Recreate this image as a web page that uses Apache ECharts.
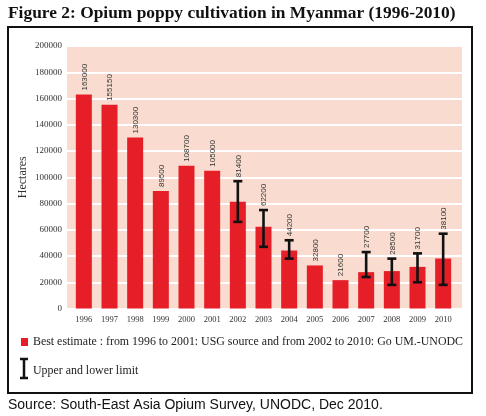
<!DOCTYPE html>
<html>
<head>
<meta charset="utf-8">
<script src="https://cdn.jsdelivr.net/npm/echarts@6/dist/echarts.min.js"></script>
<style>html,body{margin:0;padding:0;background:#fff;}#c{width:486px;height:416px;}</style>
</head>
<body>
<div id="c"></div>
<script>
var years = ['1996','1997','1998','1999','2000','2001','2002','2003','2004','2005','2006','2007','2008','2009','2010'];
var bestEstimate = [163000,155150,130300,89500,108700,105000,81400,62200,44200,32800,21600,27700,28500,31700,38100];
var upperLimit = [null,null,null,null,null,null,97000,75000,52000,null,null,43000,38000,42000,57000];
var lowerLimit = [null,null,null,null,null,null,66000,47000,38000,null,null,24000,18000,20000,18000];
var yTicks = [0,20000,40000,60000,80000,100000,120000,140000,160000,180000,200000];

var chart = echarts.init(document.getElementById('c'), null, {renderer:'canvas'});
var customData = years.map(function(y,i){ return [i, bestEstimate[i], lowerLimit[i]==null?'-':lowerLimit[i], upperLimit[i]==null?'-':upperLimit[i]]; });

chart.setOption({
  animation:false,
  grid:[
    {left:67, right:24, top:46, bottom:107.5, show:true, backgroundColor:'#f9dccf', borderWidth:0},
    {left:71, right:30, top:46, bottom:107.5}
  ],
  xAxis:[
    {gridIndex:0, type:'category', data:years, show:false},
    {gridIndex:1, type:'category', data:years, axisLine:{show:false}, axisTick:{show:false},
     axisLabel:{fontFamily:'Liberation Serif', fontSize:8.5, color:'#333', margin:7}}
  ],
  yAxis:[
    {gridIndex:0, type:'value', min:yTicks[0], max:yTicks[yTicks.length-1], interval:20000,
     name:'Hectares', nameLocation:'middle', nameRotate:90, nameGap:38, nameMoveOverlap:false,
     nameTextStyle:{fontFamily:'Liberation Serif', fontSize:12, color:'#333'},
     axisLine:{show:false}, axisTick:{show:false},
     axisLabel:{fontFamily:'Liberation Serif', fontSize:9, color:'#333', margin:5, formatter:function(v){return String(v);}},
     splitLine:{show:true, lineStyle:{color:'#ffffff', width:2}}},
    {gridIndex:1, type:'value', min:0, max:200000, interval:20000, show:false, splitLine:{show:false}}
  ],
  series:[
    {type:'bar', xAxisIndex:1, yAxisIndex:1, data:bestEstimate, barWidth:16, itemStyle:{color:'#e61e27'}},
    {type:'custom', xAxisIndex:1, yAxisIndex:1, data:customData, z:5,
     renderItem:function(params, api){
       var i = api.value(0), v = api.value(1), lo = api.value(2), hi = api.value(3);
       var children = [];
       var top = api.coord([i, v]);
       var anchorY = top[1];
       if (!isNaN(hi) && !isNaN(lo)) {
         var h = api.coord([i, hi]), l = api.coord([i, lo]);
         var x = h[0], cw = 4.5;
         var st = {stroke:'#111', lineWidth:2.6};
         children.push({type:'line', shape:{x1:x,y1:h[1],x2:x,y2:l[1]}, style:st});
         children.push({type:'line', shape:{x1:x-cw,y1:h[1],x2:x+cw,y2:h[1]}, style:st});
         children.push({type:'line', shape:{x1:x-cw,y1:l[1],x2:x+cw,y2:l[1]}, style:st});
         anchorY = Math.min(anchorY, h[1]);
       }
       children.push({type:'text', x:top[0]+0.5, y:anchorY-4, rotation:Math.PI/2,
         style:{text:String(v), fontFamily:'Liberation Sans', fontSize:8, fill:'#333', align:'left', verticalAlign:'middle'}});
       return {type:'group', children:children};
     }}
  ],
  graphic:[
    {type:'rect', shape:{x:8, y:27, width:464, height:366}, style:{fill:'none', stroke:'#111', lineWidth:2}, z:-1},
    {type:'text', left:8, top:5, style:{text:'Figure 2: Opium poppy cultivation in Myanmar (1996-2010)', fontFamily:'Liberation Serif', fontWeight:'bold', fontSize:17.4, fill:'#111'}},
    {type:'rect', shape:{x:21, y:338, width:7, height:8}, style:{fill:'#e61e27'}},
    {type:'text', x:33, y:342, style:{text:'Best estimate : from 1996 to 2001: USG source and from 2002 to 2010: Go UM.-UNODC', fontFamily:'Liberation Serif', fontSize:11.9, fill:'#222', verticalAlign:'middle'}},
    {type:'polyline', shape:{points:[[20,359],[28,359]]}, style:{stroke:'#111', lineWidth:2.5}},
    {type:'polyline', shape:{points:[[24,359],[24,378]]}, style:{stroke:'#111', lineWidth:2.5}},
    {type:'polyline', shape:{points:[[20,378],[28,378]]}, style:{stroke:'#111', lineWidth:2.5}},
    {type:'text', x:33, y:371, style:{text:'Upper and lower limit', fontFamily:'Liberation Serif', fontSize:11.9, fill:'#222', verticalAlign:'middle'}},
    {type:'text', x:8, y:405, style:{text:'Source: South-East Asia Opium Survey, UNODC, Dec 2010.', fontFamily:'Liberation Sans', fontSize:14, fill:'#111', verticalAlign:'middle'}}
  ]
});
</script>
</body>
</html>
